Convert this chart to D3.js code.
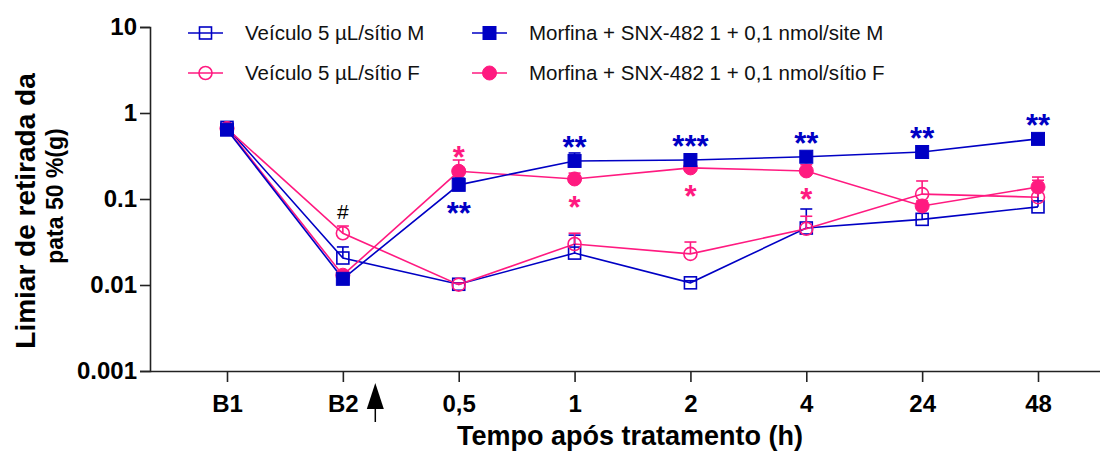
<!DOCTYPE html>
<html>
<head>
<meta charset="utf-8">
<script src="https://cdn.jsdelivr.net/npm/d3@7"></script>
<style>
  body { margin: 0; background: #fff; }
  svg { display: block; font-family: "Liberation Sans", Arial, sans-serif; }
</style>
</head>
<body>
<svg id="chart" width="1102" height="451"></svg>
<script>
// Time points (x categories) and y ticks
var categories = ['B1', 'B2', '0,5', '1', '2', '4', '24', '48'];
var yTicks = [0.001, 0.01, 0.1, 1, 10];

// Series means (g) and upper error values
var vehM      = [0.68, 0.0206, 0.0102, 0.0235, 0.0106, 0.046, 0.058, 0.081];
var vehMTop   = [0.74, 0.0277, 0.0106, 0.038, 0.0112, 0.0765, 0.085, 0.134];
var vehF      = [0.66, 0.040, 0.0101, 0.030, 0.023, 0.045, 0.114, 0.105];
var vehFTop   = [0.72, 0.0485, 0.0105, 0.040, 0.0316, 0.063, 0.162, 0.165];
var morM      = [0.64, 0.0118, 0.146, 0.277, 0.284, 0.31, 0.352, 0.50];
var morMTop   = [0.70, 0.0125, 0.175, 0.343, 0.31, 0.34, 0.37, 0.52];
var morF      = [0.66, 0.0130, 0.21, 0.171, 0.23, 0.212, 0.083, 0.138];
var morFTop   = [0.72, 0.0140, 0.284, 0.20, 0.26, 0.25, 0.095, 0.18];

var legendLabels = [
  'Veículo 5 \u00b5L/sítio M',
  'Veículo 5 \u00b5L/sítio F',
  'Morfina + SNX-482 1 + 0,1 nmol/site M',
  'Morfina + SNX-482 1 + 0,1 nmol/sítio F'
];

// Significance marks: category, series, text, side
var marks = [
  ['B2', 'vehF', '#', 'above'],
  ['0,5', 'morF', '*', 'above'],
  ['0,5', 'morM', '**', 'below'],
  ['1', 'morM', '**', 'above'],
  ['1', 'morF', '*', 'below'],
  ['2', 'morM', '***', 'above'],
  ['2', 'morF', '*', 'below'],
  ['4', 'morM', '**', 'above'],
  ['4', 'morF', '*', 'below'],
  ['24', 'morM', '**', 'above'],
  ['48', 'morM', '**', 'above']
];

var BLUE = '#0000c4';
var PINK = '#ff1a80';

var series = [
  { key: 'vehM', values: vehM, tops: vehMTop, color: BLUE, shape: 'square', filled: false, label: legendLabels[0] },
  { key: 'vehF', values: vehF, tops: vehFTop, color: PINK, shape: 'circle', filled: false, label: legendLabels[1] },
  { key: 'morF', values: morF, tops: morFTop, color: PINK, shape: 'circle', filled: true, label: legendLabels[3] },
  { key: 'morM', values: morM, tops: morMTop, color: BLUE, shape: 'square', filled: true, label: legendLabels[2] }
];
var byKey = {};
series.forEach(function(s) { byKey[s.key] = s; });

var svg = d3.select('#chart');
var axisLeft = 150, axisRight = 1100, axisTop = 27, axisBottom = 371;

var x = d3.scalePoint().domain(categories).range([227, 1038]);
var y = d3.scaleLog().domain([0.001, 10]).range([axisBottom, axisTop]);

// Axes
svg.append('g')
  .attr('transform', 'translate(' + axisLeft + ',0)')
  .call(d3.axisLeft(y).tickValues(yTicks).tickSize(10).tickPadding(3)
    .tickFormat(function(d) { return String(d); }));
var xAxis = svg.append('g')
  .attr('transform', 'translate(0,' + axisBottom + ')')
  .call(d3.axisBottom(x).tickSize(11).tickPadding(13));
xAxis.select('.domain').attr('d', 'M' + axisLeft + ',0.5H' + axisRight);

svg.selectAll('.domain, .tick line').attr('stroke', '#222').attr('stroke-width', 1.6);
svg.selectAll('.tick text')
  .attr('fill', '#000')
  .style('font-size', '24px')
  .style('font-weight', 'bold');

// Axis titles
svg.append('text')
  .attr('x', 630).attr('y', 445)
  .attr('text-anchor', 'middle')
  .style('font-size', '27px').style('font-weight', 'bold')
  .text('Tempo após tratamento (h)');

svg.append('text')
  .attr('transform', 'translate(35,211) rotate(-90)')
  .attr('text-anchor', 'middle')
  .style('font-size', '28px').style('font-weight', 'bold')
  .text('Limiar de retirada da');
svg.append('text')
  .attr('transform', 'translate(63,196) rotate(-90)')
  .attr('text-anchor', 'middle')
  .style('font-size', '23px').style('font-weight', 'bold')
  .text('pata 50 %(g)');

// Treatment arrow between B2 and 0,5
var arrowX = x('B2') + (x('0,5') - x('B2')) * 0.28;
svg.append('path')
  .attr('d', 'M' + arrowX + ',383 L' + (arrowX - 8.5) + ',409 L' + (arrowX + 8.5) + ',409 Z')
  .attr('fill', '#000');
svg.append('line')
  .attr('x1', arrowX).attr('x2', arrowX).attr('y1', 405).attr('y2', 422)
  .attr('stroke', '#000').attr('stroke-width', 1.5);

// Lines
var line = d3.line()
  .x(function(d, i) { return x(categories[i]); })
  .y(function(d) { return y(d); });

series.forEach(function(s) {
  svg.append('path')
    .datum(s.values)
    .attr('d', line)
    .attr('fill', 'none')
    .attr('stroke', s.color)
    .attr('stroke-width', 1.6);
});

// Error bars (upper) and markers
function drawMarker(g, s, cx, cy) {
  if (s.shape === 'square') {
    var size = s.filled ? 13 : 12;
    g.append('rect')
      .attr('x', cx - size / 2).attr('y', cy - size / 2)
      .attr('width', size).attr('height', size)
      .attr('fill', s.filled ? s.color : 'none')
      .attr('stroke', s.color).attr('stroke-width', s.filled ? 1 : 1.6);
  } else {
    g.append('circle')
      .attr('cx', cx).attr('cy', cy).attr('r', s.filled ? 7 : 6.5)
      .attr('fill', s.filled ? s.color : 'none')
      .attr('stroke', s.color).attr('stroke-width', s.filled ? 1 : 1.6);
  }
}

series.forEach(function(s) {
  var g = svg.append('g');
  s.values.forEach(function(v, i) {
    var cx = x(categories[i]);
    var cy = y(v), ty = y(s.tops[i]);
    if (cy - ty > 1) {
      g.append('line').attr('x1', cx).attr('x2', cx).attr('y1', cy).attr('y2', ty)
        .attr('stroke', s.color).attr('stroke-width', 1.6);
      g.append('line').attr('x1', cx - 6).attr('x2', cx + 6).attr('y1', ty).attr('y2', ty)
        .attr('stroke', s.color).attr('stroke-width', 1.6);
    }
    drawMarker(g, s, cx, cy);
  });
});

// Significance marks
marks.forEach(function(m) {
  var s = byKey[m[1]];
  var i = categories.indexOf(m[0]);
  var cy = y(s.values[i]);
  var isHash = m[2] === '#';
  var centerY = m[3] === 'above' ? cy - 21 : cy + 21;
  svg.append('text')
    .attr('x', x(m[0]))
    .attr('y', isHash ? centerY + 7 : centerY + 18)
    .attr('text-anchor', 'middle')
    .attr('fill', isHash ? '#000' : s.color)
    .style('font-size', isHash ? '21px' : '31px')
    .style('font-weight', isHash ? 'normal' : 'bold')
    .text(m[2]);
});

// Legend
var legendItems = [
  { s: byKey.vehM, lx: 188, ly: 33 },
  { s: byKey.vehF, lx: 188, ly: 73 },
  { s: byKey.morM, lx: 472, ly: 33 },
  { s: byKey.morF, lx: 472, ly: 73 }
];
legendItems.forEach(function(it) {
  var g = svg.append('g');
  g.append('line')
    .attr('x1', it.lx).attr('x2', it.lx + 35).attr('y1', it.ly).attr('y2', it.ly)
    .attr('stroke', it.s.color).attr('stroke-width', 1.6);
  drawMarker(g, it.s, it.lx + 17.5, it.ly);
  g.append('text')
    .attr('x', it.lx + 57).attr('y', it.ly + 7)
    .style('font-size', '20.5px')
    .attr('fill', '#111')
    .text(it.s.label);
});
</script>
</body>
</html>
